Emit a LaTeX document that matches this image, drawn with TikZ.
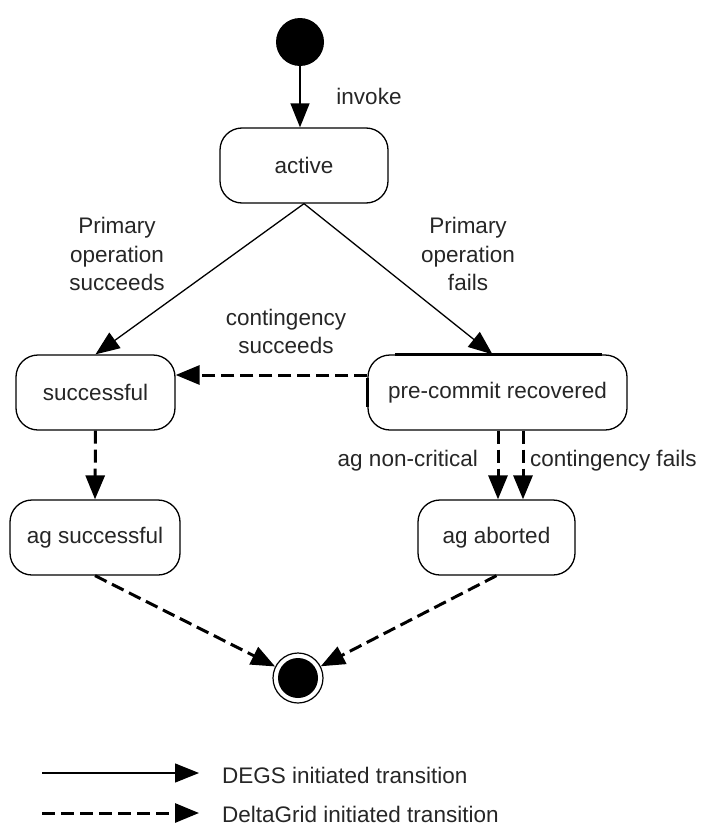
\documentclass[tikz,border=0pt]{standalone}
\usepackage{fontspec}
\setmainfont{Liberation Sans}
\usetikzlibrary{arrows.meta}
\begin{document}
\begin{tikzpicture}[x=1pt,y=-1pt,
  every node/.style={font=\fontsize{22.5}{28.5}\selectfont, text=black!85},
  state/.style={draw, line width=1.3pt, rounded corners=22pt, minimum height=75pt, inner sep=0pt},
  tip/.style={-{Triangle[length=24pt,width=19pt]}},
  degs/.style={tip, line width=1.3pt},
  grid/.style={tip, line width=3pt, dash pattern=on 13pt off 6pt},
  lbl/.style={align=center, inner sep=0pt}
]
\useasboundingbox (0,0) rectangle (712,827);

% pseudo states
\node (start) [circle, fill=black, minimum size=48pt, inner sep=0pt] at (300,42) {};
\node (end) [circle, draw, line width=1.2pt, minimum size=50pt, inner sep=0pt] at (298,678) {};
\fill (end.center) circle (20pt);

% states
\node (active)     [state, minimum width=168pt] at (304,165.5) {active};
\node (successful) [state, minimum width=159pt] at (95.5,392.5) {successful};
\node (precommit)  [state, minimum width=259pt] at (497.5,392.5) {pre-commit recovered};
\node (agsucc)     [state, minimum width=170pt] at (95,537.5) {ag successful};
\node (agabort)    [state, minimum width=157pt] at (496.5,537.5) {ag aborted};

% heavy edges on the recovered state
\draw[line width=3.5pt] ([xshift=-102.5pt]precommit.north) -- ([xshift=104.5pt]precommit.north);
\draw[line width=3.5pt] ([yshift=14.5pt]precommit.west) -- ([yshift=-14.5pt]precommit.west);

% DEGS initiated transitions
\draw[degs] (start.south) -- (start.south |- active.north);
\draw[degs] (active.south) -- (successful.north);
\draw[degs] (active.south) -- ([xshift=-5pt]precommit.north);

% DeltaGrid initiated transitions
\draw[grid] ([yshift=17.5pt]precommit.west) -- ([yshift=17.5pt]successful.east);
\draw[grid] (successful.south) -- (agsucc.north);
\draw[grid] ([xshift=0.5pt]precommit.south) -- ([xshift=1.5pt]agabort.north);
\draw[grid] ([xshift=25.5pt]precommit.south) -- ([xshift=26.5pt]agabort.north);
\draw[grid] (agsucc.south) -- (end);
\draw[grid] (agabort.south) -- (end);

% transition labels
\node (linvoke) [lbl] at (369,96) {invoke};
\node (lpos) [lbl] at (117,254) {Primary\\operation\\succeeds};
\node (lpof) [lbl] at (468,254) {Primary\\operation\\fails};
\node (lcs)  [lbl, font=\fontsize{22.5}{28}\selectfont] at (286,331) {contingency\\succeeds};
\node (lnc)  [lbl, anchor=east] at (478,461) {ag non-critical};
\node (lcf)  [lbl, anchor=west] at (530,461) {contingency fails};

% legend
\coordinate (k1a) at (42,773);
\coordinate (k1b) at (199,773);
\coordinate (k2a) at (42,813);
\coordinate (k2b) at (199,813);
\draw[degs] (k1a) -- (k1b);
\draw[grid] (k2a) -- (k2b);
\node (t1) [lbl, anchor=west] at (222,775) {DEGS initiated transition};
\node (t2) [lbl, anchor=west] at (222,814) {DeltaGrid initiated transition};
\end{tikzpicture}
\end{document}
